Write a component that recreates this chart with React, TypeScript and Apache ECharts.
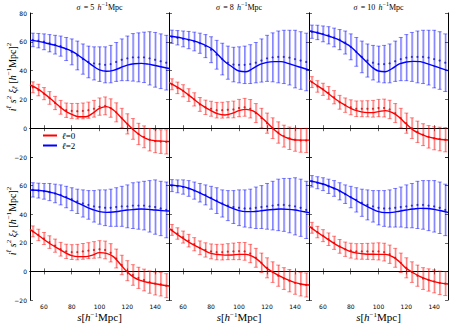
import React, { useEffect, useRef } from 'react';
import * as echarts from 'echarts';

// model curve abscissa and measurement bins (s in h^-1 Mpc)
const sCurve = [50, 55, 60, 65, 70, 75, 80, 85, 90, 95, 100, 105, 110, 115, 120, 125, 130, 135, 140, 145, 150];
const sPts = [52, 56, 60, 64, 68, 72, 76, 80, 84, 88, 92, 96, 100, 104, 108, 112, 116, 120, 124, 128, 132, 136, 140, 144, 148];

const sigmaLabels = ['5', '8', '10'];
const xTickValues = [60, 80, 100, 120, 140];
const yTickTop = [-20, 0, 20, 40, 60, 80];
const yTickBottom = [-20, 0, 20, 40, 60];

// ---- top row: model curves ----
const l0Curve_A5 = [30, 27.7, 24.2, 20.3, 16.1, 12.2, 9.6, 8, 8, 10.3, 13.8, 15, 12.6, 8, 3, -1.7, -5.4, -7.7, -8.7, -9, -9.2];
const l2Curve_A5 = [61, 60.5, 59.5, 58.3, 57, 55.5, 53.5, 50.5, 47, 43.5, 40.5, 39.5, 40.2, 42, 43.8, 44.8, 45, 44.5, 43.5, 42.5, 41.5];
const l0Curve_A8 = [31.6, 29, 26, 22.3, 18.4, 15, 12.2, 9.9, 9.2, 10.3, 12.2, 13.1, 12, 8.5, 3.9, -0.8, -4.7, -7, -8.2, -8.3, -8.3];
const l2Curve_A8 = [64, 63.3, 62.4, 61.3, 60, 58, 55.5, 51, 46.2, 42.7, 39.7, 39.2, 41.6, 44.3, 45.7, 46.2, 46.2, 45, 43.4, 42, 40.4];
const l0Curve_A10 = [33.5, 30.2, 27, 23.2, 19.6, 16.5, 13.8, 12, 11, 10.8, 11.5, 12.2, 10.8, 7.5, 2.9, -1.3, -4, -5.8, -7, -7.8, -8.2];
const l2Curve_A10 = [67.7, 66.5, 65.2, 63.7, 62, 59.5, 56.6, 52, 47.4, 42.7, 39.7, 39.2, 41.6, 44.6, 46, 46.4, 46.2, 44.8, 43.2, 41.6, 40];

// ---- bottom row: model curves ----
const l0Curve_B5 = [29.4, 26, 22.4, 19, 16.1, 13.3, 11, 10.3, 10.3, 11.4, 13.1, 12.6, 10.3, 5, -0.5, -4.4, -6.5, -7.8, -8.6, -9.5, -10.2];
const l2Curve_B5 = [56.9, 56.8, 56.2, 55.2, 53.9, 52, 49.9, 47.5, 45.3, 43.3, 41.8, 41.3, 41.5, 42.2, 42.9, 43.3, 43.6, 43.4, 42.9, 42.5, 42.2];
const l0Curve_B8 = [30.1, 26.5, 23.1, 20, 17.3, 14.8, 12.6, 11.8, 11.4, 11.5, 11.9, 11.9, 10.3, 6.8, 2.1, -1, -3.7, -6, -7.9, -9, -9.5];
const l2Curve_B8 = [60.4, 60, 59.3, 57.8, 55.8, 53.5, 51.1, 48.7, 46.4, 44.3, 42.5, 41.8, 41.8, 42.3, 42.9, 43.3, 43.6, 43.4, 42.9, 42, 41.1];
const l0Curve_B10 = [31.7, 28.1, 24.8, 21.5, 18.4, 16, 13.8, 12.8, 12.2, 12, 11.9, 11.9, 10.3, 6.8, 2.1, -1, -3.7, -5.6, -7.2, -8.2, -8.8];
const l2Curve_B10 = [63.4, 62.4, 61.1, 59.3, 57.3, 54.7, 51.8, 49, 46.4, 43.9, 41.8, 41.1, 41.3, 42.1, 42.9, 43.6, 44.1, 44, 43.4, 42.4, 41.3];

// ---- measured points ----
const l0Pts_A5 = [28.4, 26.5, 24, 21, 17.5, 14.5, 12.5, 12, 11.8, 12, 12.5, 13.5, 15, 15.5, 14, 11, 7, 3, -0.5, -4, -6, -8, -9, -9.3, -9.5];
const l2Pts_A5 = [61.3, 60.8, 60, 59, 58, 57, 55, 53, 50.5, 48, 46, 45, 44.5, 44, 44.5, 46, 47.5, 48.5, 49.2, 49.2, 49.2, 48.5, 47.5, 46.5, 45.5];
const l0Pts_A8 = [30.5, 28, 26, 23, 20, 16.5, 14.5, 13.5, 12.5, 12.5, 12.8, 13, 14, 14.5, 13.5, 10.5, 7, 3.5, 0, -3, -5.5, -7, -8, -8.5, -8.5];
const l2Pts_A8 = [63.5, 62.8, 62, 61.2, 60.2, 59, 57, 54.5, 51, 48, 45.5, 44.2, 44, 44, 44.5, 45.5, 47, 48.5, 49.2, 49.5, 49.5, 49, 48, 47, 46];
const l0Pts_A10 = [32, 29, 27, 24.5, 21.5, 18, 16, 14.5, 13.5, 13.5, 13.5, 13.5, 14, 14, 13, 10.5, 7, 3.5, 0, -2.5, -4.5, -6, -7, -7.5, -8];
const l2Pts_A10 = [67, 66.5, 65.5, 64.5, 63, 61.5, 59.5, 56.5, 53, 49.5, 47, 45.5, 44.5, 44.5, 45, 46.5, 48, 49, 49.5, 49.5, 49.5, 49, 48, 47, 45.5];
const l0Pts_B5 = [28, 25.5, 23, 20.5, 18, 15.5, 14, 13.5, 13.5, 14, 14.5, 15, 15.5, 15, 13, 9, 4.5, 0.5, -2.5, -4.5, -6, -7.5, -8.5, -9, -10];
const l2Pts_B5 = [57, 56.5, 56, 55.5, 54.5, 53.5, 52, 50.5, 49, 47.5, 46.5, 45.5, 45, 44.5, 44.5, 45, 45.5, 45.5, 46, 46, 46, 45.5, 45, 44, 43];
const l0Pts_B8 = [29, 26.5, 24, 21.5, 19, 16.5, 15, 14, 13.5, 13.5, 13.8, 14, 14.2, 14, 12.5, 9.5, 6, 2.5, -0.5, -3, -5, -6.5, -8, -9, -9.5];
const l2Pts_B8 = [60, 59.5, 59, 58, 56.5, 55, 53.5, 51.5, 49.5, 47.5, 46, 45, 44.5, 44, 44, 44.5, 45, 45.5, 46, 46.5, 46.5, 46, 45.5, 44.5, 43];
const l0Pts_B10 = [30.5, 27.5, 25, 22.5, 20, 17.5, 15.5, 14.5, 14, 14, 14, 14, 14, 13.5, 12, 9.5, 6, 2.5, -0.5, -3, -5, -6, -7, -8, -8.5];
const l2Pts_B10 = [63, 62, 61, 59.5, 58, 56, 54, 52, 50, 48, 46.5, 45.5, 44.5, 44, 44, 44.5, 45, 45.5, 46, 46.5, 46.5, 46, 45.5, 44.5, 43];

// ---- error bars (half widths) ----
const l0Err = [3.8, 4, 4.2, 4.4, 4.6, 4.8, 5, 5.2, 5.4, 5.5, 5.6, 5.8, 6, 6.2, 6.4, 6.6, 6.8, 7, 7.2, 7.4, 7.6, 7.8, 8, 8.2, 8.4];
const l2Err_A5 = [4.7, 5, 5.5, 6, 6.5, 7, 8, 9, 10, 10.5, 11, 11.5, 12, 12.5, 13, 13.5, 14.5, 15.5, 16.5, 17, 17.5, 18.5, 19, 19, 19];
const l2Err_A8 = [4.6, 5, 5.5, 6, 6.5, 7, 8, 9, 10, 11, 11.5, 12, 12.5, 13, 13.5, 14, 15, 16, 17, 18, 18.5, 19, 20, 20, 20];
const l2Err_A10 = [4.6, 5, 5.5, 6, 6.5, 7, 8, 9, 10, 11, 11.5, 12, 12.5, 13, 13.5, 14, 15, 16, 17, 18, 18.5, 19, 20, 20, 20];
const l2Err_B5 = [5, 5.2, 5.5, 6, 6.5, 7, 7.5, 8, 8.5, 9.5, 10, 11, 12, 12.5, 13, 13.5, 14, 15, 16, 16.5, 17, 18, 19, 19, 19.5];
const l2Err_B8 = [4.2, 4.5, 5, 5.5, 6, 6.5, 7, 8, 9, 9.5, 10.5, 11.5, 12.5, 13, 13.5, 14.5, 15, 16, 17, 18, 18.5, 19, 20, 20, 20];
const l2Err_B10 = [4, 4.2, 4.5, 5, 5.5, 6, 6.5, 7.5, 8.5, 9.5, 10.5, 11, 12, 12.5, 13, 13.5, 14, 15, 15.5, 16.5, 17, 17.5, 18, 18, 18];

const panels = [
  { l0c: l0Curve_A5, l2c: l2Curve_A5, l0p: l0Pts_A5, l2p: l2Pts_A5, l2e: l2Err_A5 },
  { l0c: l0Curve_A8, l2c: l2Curve_A8, l0p: l0Pts_A8, l2p: l2Pts_A8, l2e: l2Err_A8 },
  { l0c: l0Curve_A10, l2c: l2Curve_A10, l0p: l0Pts_A10, l2p: l2Pts_A10, l2e: l2Err_A10 },
  { l0c: l0Curve_B5, l2c: l2Curve_B5, l0p: l0Pts_B5, l2p: l2Pts_B5, l2e: l2Err_B5 },
  { l0c: l0Curve_B8, l2c: l2Curve_B8, l0p: l0Pts_B8, l2p: l2Pts_B8, l2e: l2Err_B8 },
  { l0c: l0Curve_B10, l2c: l2Curve_B10, l0p: l0Pts_B10, l2p: l2Pts_B10, l2e: l2Err_B10 },
];

const RED = '#ff0000';
const BLUE = '#0000ff';
const MATH = 'Liberation Serif';
const TICKFONT = 'DejaVu Sans';

const lefts = [30, 169, 309];
const widths = [139, 140, 139];
const tops = [13, 157];
const heights = [144, 143];

const mathRich = {
  t: { fontFamily: MATH, fontSize: 10, color: '#000', lineHeight: 13 },
  i: { fontFamily: MATH, fontSize: 10, fontStyle: 'italic', color: '#000', lineHeight: 13 },
  sup: { fontFamily: MATH, fontSize: 7, color: '#000', lineHeight: 13, verticalAlign: 'top' },
  supi: { fontFamily: MATH, fontSize: 7, fontStyle: 'italic', color: '#000', lineHeight: 13, verticalAlign: 'top' },
  subi: { fontFamily: MATH, fontSize: 7, fontStyle: 'italic', color: '#000', lineHeight: 13, verticalAlign: 'bottom' },
};

const titleRich = {
  t: { fontFamily: MATH, fontSize: 8, color: '#000', lineHeight: 10 },
  i: { fontFamily: MATH, fontSize: 8, fontStyle: 'italic', color: '#000', lineHeight: 10 },
  sup: { fontFamily: MATH, fontSize: 6, color: '#000', lineHeight: 10, verticalAlign: 'top' },
};

const xNameRich = {
  t: { fontFamily: MATH, fontSize: 11, color: '#000', lineHeight: 12 },
  i: { fontFamily: MATH, fontSize: 11, fontStyle: 'italic', color: '#000', lineHeight: 12 },
  sup: { fontFamily: MATH, fontSize: 7, color: '#000', lineHeight: 12, verticalAlign: 'top' },
};

function fmtTick(v: number) {
  return v < 0 ? '\u2212' + Math.abs(v) : String(v);
}

function errRender(dark: string, light: string) {
  return (params: any, api: any) => {
    const x = api.value(0);
    const y = api.value(1);
    const e = api.value(2);
    const top = api.coord([x, y + e]);
    const bot = api.coord([x, y - e]);
    const cx = top[0];
    return {
      type: 'group',
      children: [
        { type: 'line', shape: { x1: cx + 0.7, y1: top[1], x2: cx + 0.7, y2: bot[1] }, style: { stroke: light, lineWidth: 1.6 } },
        { type: 'line', shape: { x1: cx, y1: top[1], x2: cx, y2: bot[1] }, style: { stroke: dark, lineWidth: 0.7 } },
        { type: 'line', shape: { x1: cx - 2, y1: top[1], x2: cx + 2, y2: top[1] }, style: { stroke: dark, lineWidth: 0.8 } },
        { type: 'line', shape: { x1: cx - 2, y1: bot[1], x2: cx + 2, y2: bot[1] }, style: { stroke: dark, lineWidth: 0.8 } },
      ],
    };
  };
}

function buildOption() {
  const grid: any[] = [];
  const xAxis: any[] = [];
  const yAxis: any[] = [];
  const series: any[] = [];
  const graphic: any[] = [];

  for (let p = 0; p < 6; p++) {
    const row = Math.floor(p / 3);
    const col = p % 3;
    grid.push({ left: lefts[col], top: tops[row], width: widths[col], height: heights[row], show: false, containLabel: false });
    const axLine = { show: true, lineStyle: { color: '#000', width: 1 } };
    const tick = { show: true, inside: true, length: 3, lineStyle: { color: '#000', width: 0.6 }, customValues: xTickValues };
    xAxis.push({
      type: 'value', gridIndex: p, min: 50, max: 150, position: 'bottom',
      axisLine: axLine, axisTick: tick, splitLine: { show: false },
      axisLabel: { show: row === 1, customValues: xTickValues, fontSize: 6, fontFamily: TICKFONT, color: '#000', margin: 3 },
    });
    xAxis.push({
      type: 'value', gridIndex: p, min: 50, max: 150, position: 'top',
      axisLine: axLine, axisTick: tick, splitLine: { show: false }, axisLabel: { show: false },
    });
    const ytick = { show: true, inside: true, length: 3, lineStyle: { color: '#000', width: 0.6 } };
    yAxis.push({
      type: 'value', gridIndex: p, min: -20, max: 80, interval: 20, position: 'left',
      axisLine: axLine, axisTick: ytick, splitLine: { show: false },
      axisLabel: {
        show: col === 0, customValues: row === 0 ? yTickTop : yTickBottom,
        fontSize: 6, fontFamily: TICKFONT, color: '#000', margin: 3, formatter: fmtTick,
      },
    });
    yAxis.push({
      type: 'value', gridIndex: p, min: -20, max: 80, interval: 20, position: 'right',
      axisLine: axLine, axisTick: ytick, splitLine: { show: false }, axisLabel: { show: false },
    });

    const d = panels[p];
    const xi = 2 * p;
    const yi = 2 * p;
    series.push({
      type: 'custom', xAxisIndex: xi, yAxisIndex: yi, name: 'err2_' + p,
      renderItem: errRender('rgba(0,0,255,0.6)', 'rgba(0,0,255,0.3)'),
      data: sPts.map((s, i) => [s, d.l2p[i], d.l2e[i]]), encode: { x: 0, y: 1 }, z: 2,
    });
    series.push({
      type: 'custom', xAxisIndex: xi, yAxisIndex: yi, name: 'err0_' + p,
      renderItem: errRender('rgba(255,0,0,0.6)', 'rgba(255,0,0,0.3)'),
      data: sPts.map((s, i) => [s, d.l0p[i], l0Err[i]]), encode: { x: 0, y: 1 }, z: 2,
    });
    series.push({
      type: 'scatter', xAxisIndex: xi, yAxisIndex: yi, name: 'pts2_' + p, symbolSize: 2.2,
      itemStyle: { color: '#1010c0' }, data: sPts.map((s, i) => [s, d.l2p[i]]), z: 3,
    });
    series.push({
      type: 'scatter', xAxisIndex: xi, yAxisIndex: yi, name: 'pts0_' + p, symbolSize: 2.2,
      itemStyle: { color: '#c01010' }, data: sPts.map((s, i) => [s, d.l0p[i]]), z: 3,
    });
    series.push({
      type: 'line', xAxisIndex: xi, yAxisIndex: yi, name: '\u2113=0', smooth: 0.4, showSymbol: false,
      lineStyle: { color: RED, width: 1.4 }, itemStyle: { color: RED },
      data: sCurve.map((s, i) => [s, d.l0c[i]]), z: 4,
    });
    series.push({
      type: 'line', xAxisIndex: xi, yAxisIndex: yi, name: '\u2113=2', smooth: 0.4, showSymbol: false,
      lineStyle: { color: BLUE, width: 1.4 }, itemStyle: { color: BLUE },
      data: sCurve.map((s, i) => [s, d.l2c[i]]), z: 4,
    });
  }

  // panel titles and x-axis names
  for (let c = 0; c < 3; c++) {
    graphic.push({
      type: 'text', x: lefts[c] + widths[c] / 2, y: 7,
      style: {
        text: '{i|\u03c3} {t|= ' + sigmaLabels[c] + '} {i|h}{sup|\u22121}{t|Mpc}',
        rich: titleRich, align: 'center', verticalAlign: 'middle',
      },
    });
    graphic.push({
      type: 'text', x: lefts[c] + widths[c] / 2, y: 317,
      style: {
        text: '{i|s}{t|[}{i|h}{sup|\u22121}{t|Mpc]}',
        rich: xNameRich, align: 'center', verticalAlign: 'middle',
      },
    });
  }
  // y axis names
  [77, 221].forEach((cy) => {
    graphic.push({
      type: 'text', x: 12, y: cy, rotation: Math.PI / 2,
      style: {
        text: '{i|i}{supi|\u2113}{t| }{i|s}{sup|2}{t| }{i|\u03be}{subi|\u2113}{t| [}{i|h}{sup|\u22121}{t|Mpc]}{sup|2}',
        rich: mathRich, align: 'center', verticalAlign: 'middle',
      },
    });
  });

  return {
    animation: false,
    backgroundColor: '#fff',
    grid, xAxis, yAxis, series, graphic,
    legend: {
      data: ['\u2113=0', '\u2113=2'],
      orient: 'vertical', left: 38, top: 126, itemWidth: 14, itemHeight: 2, itemGap: 1,
      icon: 'rect', selectedMode: false,
      formatter: (name: string) => '{i|\u2113}{t|' + name.slice(1) + '}',
      textStyle: {
        rich: {
          i: { fontFamily: MATH, fontSize: 9, fontStyle: 'italic', color: '#000' },
          t: { fontFamily: MATH, fontSize: 9, color: '#000' },
        },
      },
    },
  };
}

export default function App() {
  const ref = useRef<HTMLDivElement>(null);
  useEffect(() => {
    if (!ref.current) return;
    const chart = echarts.init(ref.current, null, { renderer: 'svg' });
    chart.setOption(buildOption() as any);
    return () => chart.dispose();
  }, []);
  return <div ref={ref} style={{ position: 'absolute', left: 0, top: 0, width: 452, height: 325 }} />;
}
